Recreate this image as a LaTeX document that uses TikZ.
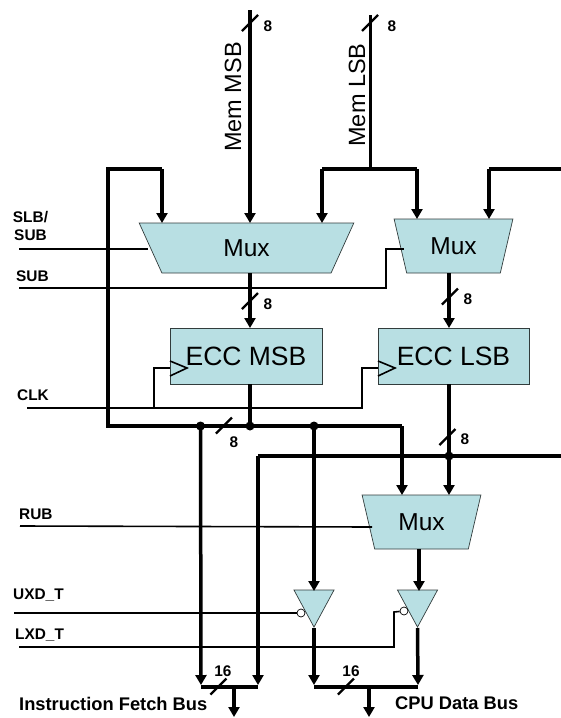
\documentclass[tikz,border=0pt]{standalone}
\usepackage{fontspec}
\setmainfont{Liberation Sans}
\usetikzlibrary{arrows.meta,shapes.geometric}

\definecolor{blockfill}{RGB}{184,223,227}
\definecolor{blockline}{RGB}{50,60,60}

\tikzset{
  bus/.style={line width=3.5pt},
  arrowbus/.style={bus,-{Triangle[length=10pt,width=11pt]}},
  wire/.style={line width=1.6pt},
  slash/.style={line width=2.4pt},
  mux/.style={trapezium,draw=blockline,fill=blockfill,line width=0.7pt,inner sep=0pt,
    trapezium left angle=70,trapezium right angle=70,trapezium stretches=true,
    shape border rotate=180,font=\fontsize{24.5}{26}\selectfont},
  ecc/.style={rectangle,draw=blockline,fill=blockfill,line width=0.7pt,inner sep=0pt,
    minimum height=56pt,font=\fontsize{26.5}{28}\selectfont},
  tri/.style={isosceles triangle,draw=blockline,fill=blockfill,line width=0.7pt,inner sep=0pt,
    isosceles triangle stretches=true,shape border rotate=-90,anchor=apex,
    minimum width=40pt,minimum height=37pt},
  dot/.style={circle,fill=black,inner sep=0pt,minimum size=9pt},
  bubble/.style={circle,draw=black,fill=white,line width=0.7pt,inner sep=0pt,minimum size=8pt},
  sig/.style={anchor=base west,inner sep=0pt,font=\fontsize{15.4}{18}\bfseries\selectfont},
  buslabel/.style={anchor=base west,inner sep=0pt,font=\fontsize{18.3}{20}\bfseries\selectfont},
  width/.style={font=\fontsize{15.4}{18}\bfseries\selectfont},
  mem/.style={rotate=90,anchor=base,inner sep=0pt,font=\fontsize{23.5}{26}\selectfont}
}

\begin{document}
\begin{tikzpicture}[x=1pt,y=-1pt]
\useasboundingbox (0,0) rectangle (561,718);

% blocks
\node[mux,minimum width=215pt,minimum height=50pt] (muxmsb) at (246.5,248) {Mux};
\node[mux,minimum width=119pt,minimum height=54pt] (muxlsb) at (453.5,246) {Mux};
\node[mux,minimum width=119pt,minimum height=54pt] (muxout) at (421.5,522) {Mux};
\node[ecc,minimum width=152pt] (eccmsb) at (246,356) {ECC MSB};
\node[ecc,minimum width=151pt] (ecclsb) at (453.5,356) {ECC LSB};
\node[tri] (triu) at (314,628) {};
\node[tri] (tril) at (417.5,628) {};
\node[bubble] (bubu) at (301,613) {};
\node[bubble] (bubl) at (404,611) {};

% labels
\node[mem] (memmsblabel) at (241,97) {Mem MSB};
\node[mem] (memlsblabel) at (365,95) {Mem LSB};
\node[sig,align=center,anchor=center] (slblabel) at (30.5,226) {SLB/\\SUB};
\node[sig] (sublabel) at (16,281.5) {SUB};
\node[sig] (clklabel) at (17,400.5) {CLK};
\node[sig] (rublabel) at (19,519.5) {RUB};
\node[sig] (uxdlabel) at (13,599.5) {UXD\_T};
\node[sig] (lxdlabel) at (15,639.5) {LXD\_T};
\node[buslabel] (fetchlabel) at (19,710) {Instruction Fetch Bus};
\node[buslabel] (datalabel) at (395,709) {CPU Data Bus};

% junctions
\coordinate (memmsb) at (250,10);
\coordinate (memlsb) at (370,15);
\coordinate (lsbtee) at (370,169);
\coordinate (lsbleft) at (322,169);
\coordinate (lsbright) at (417,169);
\coordinate (busright) at (561,169);
\coordinate (busrighttop) at (489,169);
\coordinate (looptop) at (108,169);
\coordinate (loopin) at (162,169);
\coordinate (loopcorner) at (108,426);
\coordinate (cornerout) at (402,426);
\coordinate (dataright) at (561,456);
\coordinate (datacorner) at (258,456);
\coordinate (juncfetch) at (200.5,426);
\coordinate (juncmsb) at (250,426);
\coordinate (juncuxd) at (314,426);
\coordinate (junclsb) at (449,456);

\coordinate (fetchbusl) at (201,687);
\coordinate (fetchbusr) at (258,687);
\coordinate (databusl) at (314,687);
\coordinate (databusr) at (418,687);
\coordinate (fetchout) at (234,687);
\coordinate (dataout) at (369,687);

% memory buses
\draw[arrowbus] (memmsb) -- (250,223);
\draw[bus,line width=3pt] (memlsb) -- (lsbtee);
\draw[bus] (lsbleft) -- (lsbright);
\draw[arrowbus] (lsbleft) -- (322,223);
\draw[arrowbus] (lsbright) -- (417,219);
\draw[bus] (busright) -- (busrighttop);
\draw[arrowbus] (busrighttop) -- (489,219);

% loop back
\draw[bus] (juncmsb) -- (loopcorner) -- (looptop) -- (loopin);
\draw[arrowbus] (loopin) -- (162,223);
\draw[bus] (juncmsb) -- (juncuxd) -- (cornerout);
\draw[arrowbus] (cornerout) -- (402,495);

% mux to ecc
\draw[arrowbus] (250,273) -- (250,328);
\draw[arrowbus] (449,273) -- (449,328);
\draw[bus] (250,384) -- (juncmsb);
\draw[bus] (449,384) -- (junclsb);
\draw[arrowbus] (junclsb) -- (449,495);
\draw[bus] (dataright) -- (junclsb) -- (datacorner);

% down to the output buses
\draw[arrowbus] (juncfetch) -- (201,685);
\draw[arrowbus] (datacorner) -- (258,685);
\draw[arrowbus] (juncuxd) -- (314,591);
\draw[arrowbus] (419,549) -- (419,591);
\draw[arrowbus] (triu.apex) -- (314,685);
\draw[arrowbus] (tril.apex) -- (418,685);
\draw[bus] (fetchbusl) -- (fetchbusr);
\draw[bus] (databusl) -- (databusr);
\draw[arrowbus] (fetchout) -- (234,717);
\draw[arrowbus] (dataout) -- (369,717);

% dots
\node[dot] (dotfetch) at (juncfetch) {};
\node[dot] (dotmsb) at (juncmsb) {};
\node[dot] (dotuxd) at (juncuxd) {};
\node[dot] (dotlsb) at (junclsb) {};

% control wires
\draw[wire] (19,249) -- (148,249);
\draw[wire] (19,288) -- (386,288) -- (386,249) -- (404,249);
\draw[wire] (27,408) -- (362,408) -- (362,368) -- (ecclsb.west |- 0,368);
\draw[wire] (154,408) -- (154,368) -- (eccmsb.west |- 0,368);
\draw[wire] (20,526) -- (372,527);
\draw[wire] (14,613) -- (bubu);
\draw[wire] (19,647) -- (394,647) -- (394,612) -- (bubl);

% clock marks
\draw[wire] (170,361) -- (187,368) -- (170,376);
\draw[wire] (378,361) -- (395,368) -- (378,376);

% width marks
\draw[slash] (250,23) +(-8,8) -- +(8,-8);
\draw[slash] (370,23) +(-8,8) -- +(8,-8);
\draw[slash] (250,301) +(-8,8) -- +(8,-8);
\draw[slash] (450,296.5) +(-8,8) -- +(8,-8);
\draw[slash] (224,425.5) +(-8,8) -- +(8,-8);
\draw[slash] (447.5,437) +(-8,8) -- +(8,-8);
\draw[slash] (218.5,686.5) +(-8,8) -- +(8,-8);
\draw[slash] (346,686.5) +(-8,8) -- +(8,-8);

\node[width] (widtha) at (268,26) {8};
\node[width] (widthb) at (392,26) {8};
\node[width] (widthc) at (268,304) {8};
\node[width] (widthd) at (468,299) {8};
\node[width] (widthe) at (234,442) {8};
\node[width] (widthf) at (465,439) {8};
\node[width] (widthg) at (223,671) {16};
\node[width] (widthh) at (351,671) {16};
\end{tikzpicture}
\end{document}
